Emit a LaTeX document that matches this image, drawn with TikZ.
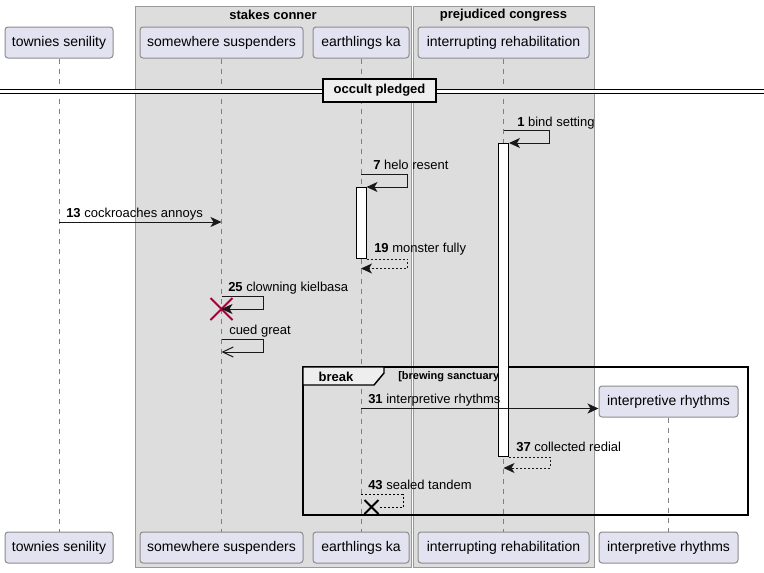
\documentclass[tikz,border=0pt]{standalone}
\usepackage{fontspec}
\setmainfont{Liberation Sans}
\usepackage{tikz}
\usetikzlibrary{arrows.meta,shapes.misc}
\definecolor{partfill}{HTML}{E2E2F0}
\definecolor{partdraw}{HTML}{8C8C8C}
\definecolor{groupfill}{HTML}{DDDDDD}
\definecolor{groupdraw}{HTML}{999999}
\definecolor{tabfill}{HTML}{EEEEEE}
\definecolor{killred}{HTML}{A80036}
\colorlet{lifecol}{gray}

\begin{document}
\begin{tikzpicture}[
  x=0.75pt, y=-0.75pt,
  every node/.style={font=\fontsize{9.75}{11.7}\selectfont},
  participant/.style={draw=partdraw, fill=partfill, rounded corners=2.25pt, minimum height=23.25pt, inner xsep=0pt, line width=0.75pt,
    font=\fontsize{10.5}{12.6}\selectfont},
  grouptitle/.style={font=\bfseries\fontsize{9.75}{11.7}\selectfont},
  lifeline/.style={draw=lifecol, dash pattern=on 3.75pt off 3.75pt, line width=0.75pt},
  activation/.style={draw=black, fill=white, minimum width=7.5pt, inner sep=0pt, anchor=north, line width=0.75pt},
  msg/.style={draw=black!90, line width=0.75pt, -{Stealth[length=8.25pt,width=7.5pt,inset=2.25pt]}},
  reply/.style={msg, dash pattern=on 1.5pt off 1.5pt},
  openmsg/.style={draw=black!90, line width=0.75pt, -{Straight Barb[length=8pt,width=7.5pt]}},
  msglabel/.style={anchor=base west, inner sep=0pt},
  kill/.style={cross out, draw, line width=1.5pt, inner sep=0pt},
]
\useasboundingbox (0,0) rectangle (764,572);

% groups
\draw[draw=groupdraw, fill=groupfill, line width=0.75pt] (135,6) rectangle (411,567);
\draw[draw=groupdraw, fill=groupfill, line width=0.75pt] (413,6) rectangle (594,567);
\node[grouptitle] (stakes) at (273,15) {stakes conner};
\node[grouptitle] (congress) at (503.5,15) {prejudiced congress};

% participants and lifelines
\foreach \p/\x/\w/\txt in {ts/59/108/townies senility, ss/221.5/163/somewhere suspenders,
    ek/361/96/earthlings ka, ir/503.5/171/interrupting rehabilitation} {
  \node[participant, minimum width=\w*0.75pt] (\p-top) at (\x,42.5) {\txt};
  \node[participant, minimum width=\w*0.75pt] (\p-bot) at (\x,547.5) {\txt};
  \draw[lifeline] (\p-top) -- (\p-bot);
}
\node[participant, minimum width=139*0.75pt] (rh-top) at (668.5,401.5) {interpretive rhythms};
\node[participant, minimum width=139*0.75pt] (rh-bot) at (668.5,547.5) {interpretive rhythms};
\draw[lifeline] (rh-top) -- (rh-bot);

% divider
\fill[white] (0,89) rectangle (764,93);
\draw[line width=0.75pt] (0,89) -- (764,89) (0,93) -- (764,93);
\node[draw, fill=tabfill, line width=1.5pt, minimum width=84.75pt, minimum height=17.25pt,
  font=\bfseries\fontsize{9.75}{11.7}\selectfont] (pledged) at (379.5,90.5) {occult pledged};

% break frame
\draw[line width=1.5pt] (303,367) rectangle (748,515);
\draw[fill=tabfill, line width=1.1pt] (303,367) -- (384,367) -- (384,373) -- (374,385) -- (303,385) -- cycle;
\node[font=\bfseries\fontsize{9.75}{11.7}\selectfont] (brk) at (336,376.5) {break};
\node[anchor=west, inner sep=0pt, font=\bfseries\fontsize{8.25}{10}\selectfont] (cond) at (398,377) {[brewing sanctuary]};

% activations
\node[activation, minimum height=313*0.75pt] (act-ir) at (503.5,143) {};
\node[activation, minimum height=71*0.75pt] (act-ek) at (361,187) {};

% messages
\coordinate (m1) at (503.5,130.5);
\draw[msg] (m1) -- ++(46,0) |- (act-ir.north east);
\node[msglabel] (l1) at (517,126) {\textbf{1} bind setting};

\coordinate (m7) at (361,174.5);
\draw[msg] (m7) -- ++(46,0) |- (act-ek.north east);
\node[msglabel] (l7) at (373,169.5) {\textbf{7} helo resent};

\coordinate (m13) at (59,222);
\draw[msg] (m13) -- (m13 -| ss-top);
\node[msglabel] (l13) at (66,217) {\textbf{13} cockroaches annoys};

\coordinate (m19) at (361,268.5);
\draw[reply] (act-ek.south east) -- ++(41,0) |- (m19);
\node[msglabel] (l19) at (374,252) {\textbf{19} monster fully};

\coordinate (m25) at (221.5,296.5);
\node[kill, draw=killred, minimum size=15pt] (x-ss) at (221.5,309) {};
\draw[msg] (m25) -- ++(42,0) |- (x-ss.center);
\node[msglabel] (l25) at (228,291) {\textbf{25} clowning kielbasa};

\coordinate (mcued) at (221.5,339.5);
\coordinate (mcued-end) at (221.5,352);
\draw[openmsg] (mcued) -- ++(42,0) |- (mcued-end);
\node[msglabel] (lcued) at (229,334) {cued great};

\coordinate (m31) at (361,408.5);
\draw[msg] (m31) -- (m31 -| rh-top.west);
\node[msglabel] (l31) at (368,403.5) {\textbf{31} interpretive rhythms};

\coordinate (m37) at (503.5,468);
\draw[reply] (act-ir.south east) -- ++(41,0) |- (m37);
\node[msglabel] (l37) at (516,451) {\textbf{37} collected redial};

\coordinate (m43) at (361,494.5);
\node[kill, draw=black, minimum size=9pt] (x-ek) at (371.5,507) {};
\draw[dash pattern=on 1.5pt off 1.5pt, line width=0.75pt] (m43) -- ++(42,0) |- (x-ek.east);
\node[msglabel] (l43) at (368,489) {\textbf{43} sealed tandem};
\end{tikzpicture}
\end{document}
